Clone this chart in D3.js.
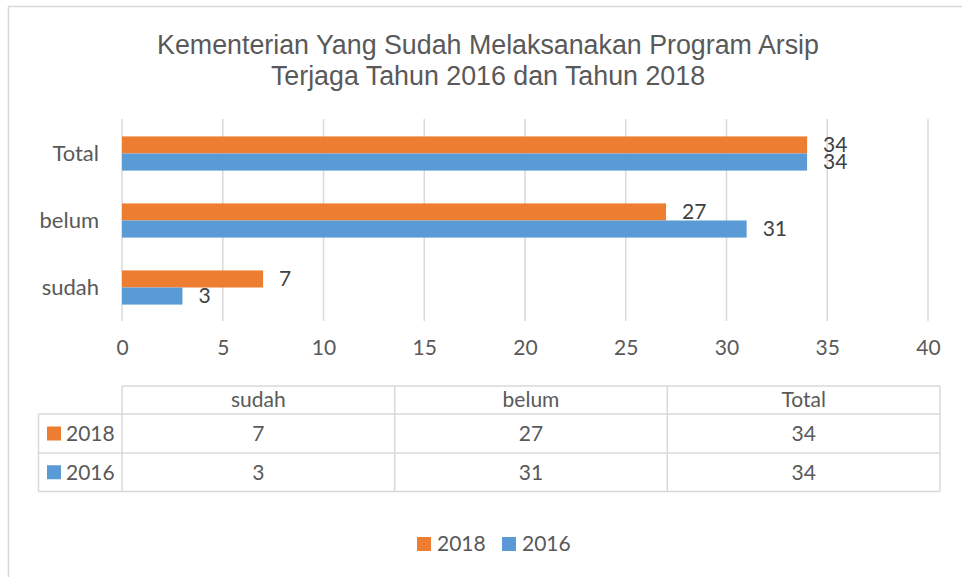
<!DOCTYPE html>
<html>
<head>
<meta charset="utf-8">
<script src="https://cdn.jsdelivr.net/npm/d3@7"></script>
<style>
  body { margin: 0; background: #fff; }
  text { fill: #595959; }
</style>
</head>
<body>
<svg id="chart"></svg>
<script>
// data
var categories = ['sudah', 'belum', 'Total'];
var series = ['2018', '2016'];
var values2018 = [7, 27, 34];
var values2016 = [3, 31, 34];
var tickValues = [0, 5, 10, 15, 20, 25, 30, 35, 40];

var colors = { '2018': '#ED7D31', '2016': '#5B9BD5' };
var valuesBySeries = { '2018': values2018, '2016': values2016 };

var svgWidth = 962;
var svgHeight = 577;
var bodyFont = 'Lato, "Open Sans", sans-serif';

var svg = d3.select('#chart')
    .attr('width', svgWidth)
    .attr('height', svgHeight);

// chart frame (runs past the right and bottom edges)
svg.append('rect')
    .attr('x', 8.5).attr('y', 6.5)
    .attr('width', 980).attr('height', 600)
    .attr('fill', 'none')
    .attr('stroke', '#D9D9D9')
    .attr('stroke-width', 1.5);

// title
var title = svg.append('text')
    .attr('text-anchor', 'middle')
    .attr('font-family', '"Liberation Sans", Arial, sans-serif')
    .style('font-size', '26.8px');
title.append('tspan').attr('x', 488).attr('y', 54)
    .text('Kementerian Yang Sudah Melaksanakan Program Arsip');
title.append('tspan').attr('x', 488).attr('y', 85)
    .text('Terjaga Tahun 2016 dan Tahun 2018');

var xScale = d3.scaleLinear()
    .domain([0, 40])
    .range([122, 928]);

var yScale = d3.scaleBand()
    .domain(categories.slice().reverse())
    .range([120, 321])
    .paddingInner(0.49)
    .paddingOuter(0.245);

var ySub = d3.scaleBand()
    .domain(series)
    .range([0, yScale.bandwidth()]);

// gridlines
svg.append('g')
    .selectAll('line')
    .data(tickValues)
    .enter()
    .append('line')
    .attr('x1', function (d) { return xScale(d); })
    .attr('x2', function (d) { return xScale(d); })
    .attr('y1', 119)
    .attr('y2', 321)
    .attr('stroke', '#D9D9D9')
    .attr('stroke-width', 1.5);

// x axis labels
var xAxis = d3.axisBottom(xScale).tickValues(tickValues).tickSize(0).tickPadding(0);
var xAxisG = svg.append('g')
    .attr('transform', 'translate(0,340)')
    .call(xAxis);
xAxisG.select('.domain').remove();
xAxisG.selectAll('text')
    .style('font-family', bodyFont)
    .style('font-size', '21px')
    .attr('fill', '#595959');

// y axis labels
var yAxis = d3.axisLeft(yScale).tickSize(0).tickPadding(0);
var yAxisG = svg.append('g')
    .attr('transform', 'translate(99,0)')
    .call(yAxis);
yAxisG.select('.domain').remove();
yAxisG.selectAll('text')
    .style('font-family', bodyFont)
    .style('font-size', '22px')
    .attr('fill', '#595959');

// bars
series.forEach(function (s) {
    var rows = categories.map(function (c, i) { return { cat: c, val: valuesBySeries[s][i] }; });

    svg.append('g')
        .selectAll('rect')
        .data(rows)
        .enter()
        .append('rect')
        .attr('x', xScale(0))
        .attr('y', function (d) { return yScale(d.cat) + ySub(s); })
        .attr('width', function (d) { return xScale(d.val) - xScale(0); })
        .attr('height', ySub.bandwidth())
        .attr('fill', colors[s]);

    svg.append('g')
        .selectAll('text')
        .data(rows)
        .enter()
        .append('text')
        .attr('x', function (d) { return xScale(d.val) + 16; })
        .attr('y', function (d) { return yScale(d.cat) + ySub(s) + ySub.bandwidth() / 2; })
        .attr('dy', '0.35em')
        .style('fill', '#404040')
        .style('font-family', bodyFont)
        .style('font-size', '21px')
        .text(function (d) { return d.val; });
});

// data table
var tableLeft = 38.5;
var tableRight = 940;
var colX = d3.scaleBand()
    .domain(categories)
    .range([122, tableRight]);
var rowTop = [386, 414, 453, 491.5];
var table = svg.append('g')
    .attr('stroke', '#D9D9D9')
    .attr('stroke-width', 1.5)
    .attr('fill', 'none');

// header row (no left cell)
table.append('line').attr('x1', 122).attr('x2', tableRight).attr('y1', rowTop[0]).attr('y2', rowTop[0]);
// body horizontal lines
rowTop.slice(1).forEach(function (y) {
    table.append('line').attr('x1', tableLeft).attr('x2', tableRight).attr('y1', y).attr('y2', y);
});
// vertical lines
table.append('line').attr('x1', tableLeft).attr('x2', tableLeft).attr('y1', rowTop[1]).attr('y2', rowTop[3]);
categories.forEach(function (c) {
    table.append('line').attr('x1', colX(c)).attr('x2', colX(c)).attr('y1', rowTop[0]).attr('y2', rowTop[3]);
});
table.append('line').attr('x1', tableRight).attr('x2', tableRight).attr('y1', rowTop[0]).attr('y2', rowTop[3]);

// header labels
svg.append('g')
    .selectAll('text')
    .data(categories)
    .enter()
    .append('text')
    .attr('x', function (d) { return colX(d) + colX.bandwidth() / 2; })
    .attr('y', (rowTop[0] + rowTop[1]) / 2)
    .attr('dy', '0.35em')
    .attr('text-anchor', 'middle')
    .style('font-family', bodyFont)
    .style('font-size', '21px')
    .text(function (d) { return d; });

series.forEach(function (s, r) {
    var cy = (rowTop[r + 1] + rowTop[r + 2]) / 2;
    svg.append('rect')
        .attr('x', 47).attr('y', cy - 7)
        .attr('width', 14).attr('height', 14)
        .attr('fill', colors[s]);
    svg.append('text')
        .attr('x', 66).attr('y', cy)
        .attr('dy', '0.35em')
        .style('font-family', bodyFont)
        .style('font-size', '21px')
        .text(s);
    svg.append('g')
        .selectAll('text')
        .data(valuesBySeries[s])
        .enter()
        .append('text')
        .attr('x', function (d, i) { return colX(categories[i]) + colX.bandwidth() / 2; })
        .attr('y', cy)
        .attr('dy', '0.35em')
        .attr('text-anchor', 'middle')
        .style('font-family', bodyFont)
        .style('font-size', '21px')
        .text(function (d) { return d; });
});

// bottom legend
var legendX = [417, 502];
series.forEach(function (s, i) {
    svg.append('rect')
        .attr('x', legendX[i]).attr('y', 537)
        .attr('width', 14).attr('height', 14)
        .attr('fill', colors[s]);
    svg.append('text')
        .attr('x', legendX[i] + 20).attr('y', 544)
        .attr('dy', '0.35em')
        .style('font-family', bodyFont)
        .style('font-size', '21px')
        .text(s);
});
</script>
</body>
</html>
